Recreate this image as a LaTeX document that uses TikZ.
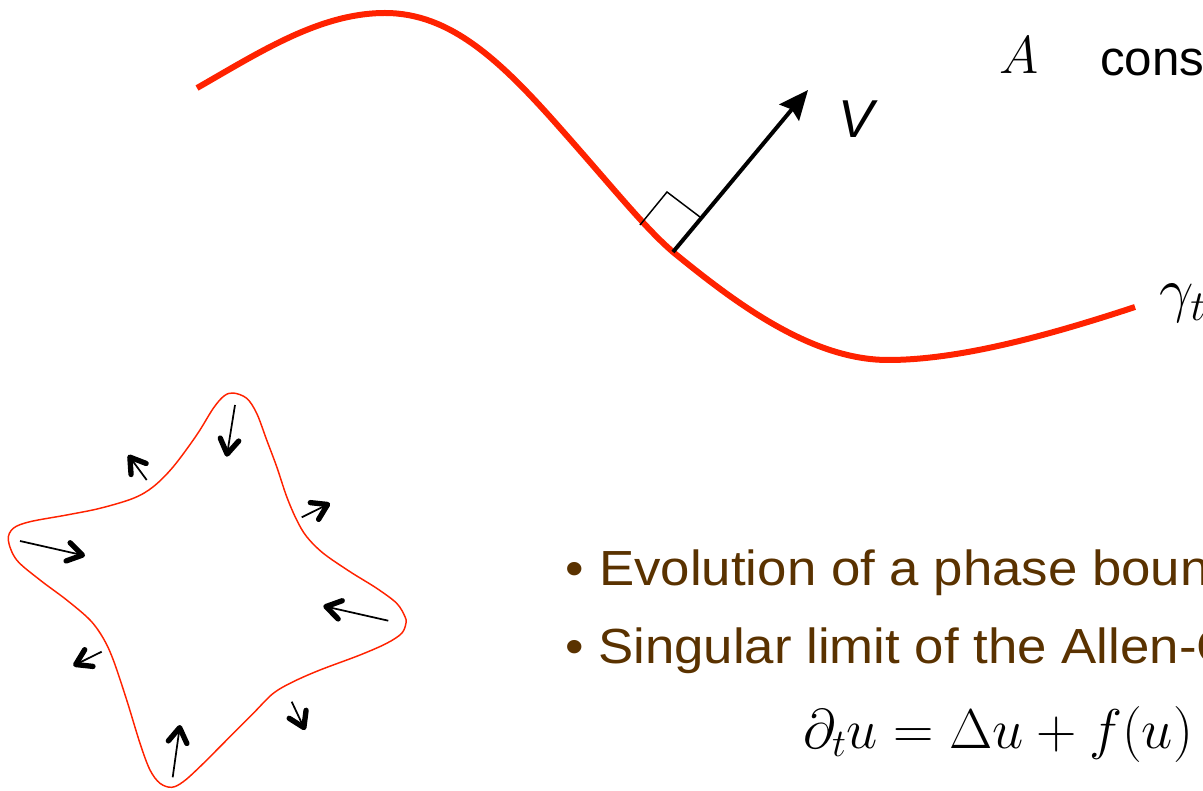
\RequirePackage{fix-cm}
\documentclass[tikz,border=0pt]{standalone}
\usepackage{fontspec}
\newfontfamily\arialf{Liberation Sans}
\newfontfamily\arialw[FakeStretch=1.07]{Liberation Sans}
\usetikzlibrary{arrows.meta}
\definecolor{curvered}{RGB}{255,34,0}
\definecolor{textbrown}{RGB}{90,50,0}
\tikzset{
  front/.style={draw=curvered, line width=4.5pt},
  starline/.style={draw=curvered, line width=1.1pt},
  normalarrow/.style={draw=black, line width=3pt, -{Stealth[length=22pt,width=19pt,inset=3pt]}},
  rightangle/.style={draw=black, line width=1.1pt},
  velarrow/.style={draw=black, line width=1.3pt, -{Straight Barb[length=11pt,width=14pt,line width=4pt 0,round]}},
  bigtext/.style={inner sep=0pt, anchor=base west, font=\fontsize{40}{48}\selectfont},
  bullettext/.style={inner sep=0pt, anchor=base west, text=textbrown, font=\arialw\fontsize{37}{44}\selectfont},
}
\begin{document}
\begin{tikzpicture}[x=0.75pt,y=-0.75pt]
\useasboundingbox (0,0) rectangle (1203,791);
\clip (0,0) rectangle (1203,791);

% moving front gamma_t
\coordinate (P) at (673,252);
\path[front] (197,88) .. controls (260,52) and (320,13) .. (385,13)
  .. controls (450,13) and (500,60) .. (560,128)
  .. controls (615,190) and (645,228) .. (P)
  .. controls (733,301) and (810,360) .. (888,360)
  .. controls (960,360) and (1050,335) .. (1135,307);

% normal velocity
\coordinate (Vtip) at (808,90);
\coordinate (RA1) at (640,225);
\coordinate (RA2) at (667,192);
\coordinate (RA3) at (700,217);
\path[rightangle] (RA1) -- (RA2) -- (RA3);
\path[normalarrow] (P) -- (Vtip);

% labels
\node[bigtext, font=\arialf\itshape\fontsize{40}{48}\selectfont] (V) at (838,138) {V};
\node[bigtext] (A) at (999,74) {$A$};
\node[bigtext, font=\arialf\fontsize{37}{44}\selectfont] (cons) at (1100,76) {cons};
\node[bigtext, font=\fontsize{46}{54}\selectfont] (gam) at (1159,311) {$\gamma_t$};

% star-shaped interface
\path[starline] plot[smooth cycle, tension=0.55] coordinates {
 (233.3,393) (246.7,398.3) (256.7,413.3) (266.7,440) (276.7,466.7) (286.7,496.7)
 (296.7,520) (306.7,536.7) (323.3,553.3) (350,571.7) (376.7,588.3) (396.7,603.3)
 (405,616.7) (406,623) (401.7,633.3) (386.7,643.3) (360,655) (320,670)
 (293.3,681.7) (273.3,693.3) (253.3,713.3) (226.7,740) (200,766.7) (183.3,781.7)
 (171.7,787.3) (160,783.3) (150,770) (140,743.3) (126.7,700) (113.3,660)
 (103.3,638.3) (90,620) (66.7,600) (40,580) (16.7,560) (8.3,540)
 (13.3,528.3) (30,521.7) (66.7,515) (100,508.3) (133.3,498.3) (153.3,486.7)
 (173.3,466.7) (196.7,435) (213.3,408.3) (224,396)
};

% arrows on the star
\coordinate (a1t) at (235,405);   \coordinate (a1h) at (226.7,456.7);
\coordinate (a2t) at (146.7,480); \coordinate (a2h) at (128.3,455);
\coordinate (a3t) at (301.7,517.3); \coordinate (a3h) at (330,503.3);
\coordinate (a4t) at (20,541);    \coordinate (a4h) at (85,555.7);
\coordinate (a5t) at (388.3,620.7); \coordinate (a5h) at (323.3,606);
\coordinate (a6t) at (101.7,651.7); \coordinate (a6h) at (73.3,665.7);
\coordinate (a7t) at (291.7,701.7); \coordinate (a7h) at (305,730);
\coordinate (a8t) at (172.7,777.3); \coordinate (a8h) at (180,725);
\foreach \i in {1,...,8} { \path[velarrow] (a\i t) -- (a\i h); }

% bullet text
\node[bullettext] (d1) at (565,585) {•};
\node[bullettext] (b1) at (599,585) {Evolution of a phase boun};
\node[bullettext] (d2) at (565,663) {•};
\node[bullettext] (b2) at (598,663) {Singular limit of the Allen-C};
\node[bigtext, font=\fontsize{42}{50}\selectfont] (eq) at (803,748) {$\partial_t u = \Delta u + f(u)$};
\end{tikzpicture}
\end{document}
